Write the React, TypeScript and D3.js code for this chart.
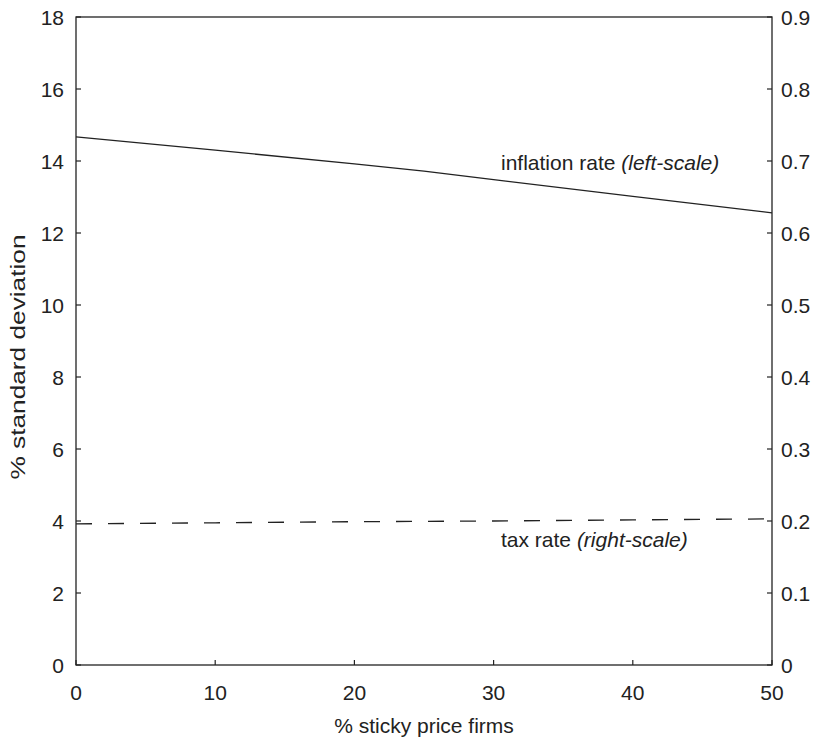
import React, { useEffect, useRef } from 'react';
import * as d3 from 'd3';

const stickyShare = [0, 10, 20, 25, 30, 40, 50];
const inflationSd = [14.67, 14.3, 13.92, 13.72, 13.48, 13.02, 12.56];
const taxShare = [0, 10, 20, 30, 40, 50];
const taxSd = [0.196, 0.1975, 0.199, 0.2, 0.2015, 0.203];
const xTicks = [0, 10, 20, 30, 40, 50];
const leftTicks = [0, 2, 4, 6, 8, 10, 12, 14, 16, 18];
const rightTicks = [0, 0.1, 0.2, 0.3, 0.4, 0.5, 0.6, 0.7, 0.8, 0.9];

const W = 813;
const H = 739;
const FONT = 'Liberation Sans, Arial, Helvetica, sans-serif';

const App = () => {
    const svgRef = useRef<SVGSVGElement | null>(null);

    useEffect(() => {
        const svg = d3.select(svgRef.current);
        svg.selectAll('*').remove();

        const left = 76, right = 772, top = 17, bottom = 665;

        const x = d3.scaleLinear().domain([0, 50]).range([left, right]);
        const yL = d3.scaleLinear().domain([0, 18]).range([bottom, top]);
        const yR = d3.scaleLinear().domain([0, 0.9]).range([bottom, top]);

        const tickLen = 5;

        // frame
        svg.append('rect')
            .attr('x', left).attr('y', top)
            .attr('width', right - left).attr('height', bottom - top)
            .attr('fill', 'none').attr('stroke', '#222').attr('stroke-width', 1.3);

        const g = svg.append('g').style('font-family', FONT).style('font-size', '21px').attr('fill', '#222');

        // bottom axis
        xTicks.forEach(t => {
            g.append('line').attr('x1', x(t)).attr('x2', x(t))
                .attr('y1', bottom).attr('y2', bottom - tickLen)
                .attr('stroke', '#222').attr('stroke-width', 1.2);
            g.append('text').attr('x', x(t)).attr('y', bottom + 35)
                .attr('text-anchor', 'middle').text(t);
        });

        // left axis
        leftTicks.forEach(t => {
            g.append('line').attr('x1', left).attr('x2', left + tickLen)
                .attr('y1', yL(t)).attr('y2', yL(t))
                .attr('stroke', '#222').attr('stroke-width', 1.2);
            g.append('text').attr('x', left - 12).attr('y', yL(t) + 7.5)
                .attr('text-anchor', 'end').text(t);
        });

        // right axis
        rightTicks.forEach(t => {
            g.append('line').attr('x1', right).attr('x2', right - tickLen)
                .attr('y1', yR(t)).attr('y2', yR(t))
                .attr('stroke', '#222').attr('stroke-width', 1.2);
            g.append('text').attr('x', right + 9).attr('y', yR(t) + 7.5)
                .attr('text-anchor', 'start').text(t === 0 ? '0' : d3.format('.1f')(t));
        });

        // axis titles
        g.append('text').attr('x', (left + right) / 2).attr('y', 733)
            .attr('text-anchor', 'middle').text('% sticky price firms');
        g.append('text')
            .attr('transform', `translate(25, 357) rotate(-90)`)
            .attr('text-anchor', 'middle')
            .attr('textLength', 245).attr('lengthAdjust', 'spacingAndGlyphs')
            .text('% standard deviation');

        // lines
        const infLine = d3.line<number>()
            .x((_, i) => x(stickyShare[i]))
            .y(d => yL(d));
        svg.append('path').datum(inflationSd)
            .attr('d', infLine).attr('fill', 'none')
            .attr('stroke', '#222').attr('stroke-width', 1.3);

        const taxLine = d3.line<number>()
            .x((_, i) => x(taxShare[i]))
            .y(d => yR(d));
        svg.append('path').datum(taxSd)
            .attr('d', taxLine).attr('fill', 'none')
            .attr('stroke', '#222').attr('stroke-width', 1.3)
            .attr('stroke-dasharray', '16,16');

        // annotations
        const a1 = g.append('text').attr('x', 501).attr('y', 170);
        a1.append('tspan').text('inflation rate ');
        a1.append('tspan').style('font-style', 'italic').text('(left-scale)');

        const a2 = g.append('text').attr('x', 501).attr('y', 547);
        a2.append('tspan').text('tax rate ');
        a2.append('tspan').style('font-style', 'italic').text('(right-scale)');
    }, []);

    return (
        <svg ref={svgRef} width={W} height={H}
            style={{ position: 'absolute', left: 0, top: 0, background: '#fff' }} />
    );
};

export default App;
